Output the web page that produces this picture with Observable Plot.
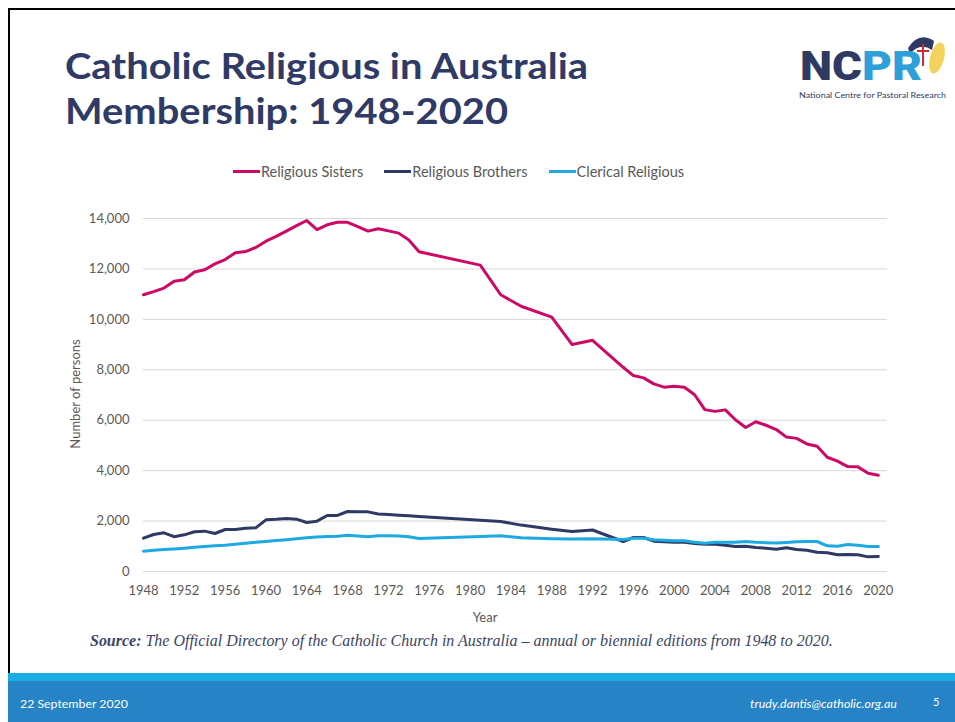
<!DOCTYPE html>
<html>
<head>
<meta charset="utf-8">
<script src="https://cdn.jsdelivr.net/npm/d3@7"></script>
<script src="https://cdn.jsdelivr.net/npm/@observablehq/plot@0.6"></script>
<style>
  html, body { margin: 0; padding: 0; background: #fff; }
  body { width: 955px; height: 722px; position: relative; overflow: hidden; font-family: Lato, "Open Sans", sans-serif; }
  .abs { position: absolute; white-space: nowrap; }
  #frame { left: 8px; top: 8px; width: 960px; height: 666px; border-top: 2px solid #000; border-left: 2px solid #000; box-sizing: border-box; }
  .title { left: 65px; font-weight: 700; color: #2F3A66; line-height: 1; transform-origin: 0 0; }
  #legend { top: 163px; left: 0; width: 917px; display: flex; justify-content: center; gap: 21px; font-size: 14.5px; color: #595959; }
  #legend .item { display: flex; align-items: center; }
  #legend .sw { width: 27px; height: 3px; margin-right: 1px; }
  #chart { left: 0; top: 150px; }
  #ylab { left: 75px; top: 394px; transform: translate(-50%, -50%) rotate(-90deg); font-size: 13px; color: #595959; }
  #xlab { left: 485px; top: 609px; transform: translateX(-50%); font-size: 13px; color: #595959; }
  #source { left: 90px; top: 632px; font-family: "Liberation Serif", "Times New Roman", serif; font-style: italic; color: #3B4466; font-size: 15px; }
  #footer1 { left: 8px; top: 673px; width: 960px; height: 8px; background: #1CADE4; }
  #footer2 { left: 8px; top: 681px; width: 960px; height: 41px; background: #2683C6; }
  .ft { color: #fff; font-size: 10px; top: 696px; }
</style>
</head>
<body>
<script>
// ---------- DATA ----------
const years = [1948,1949,1950,1951,1952,1953,1954,1955,1956,1957,1958,1959,1960,1961,1962,1963,1964,1965,1966,1967,1968,1969,1970,1971,1972,1973,1974,1975,1981,1983,1985,1988,1990,1992,1995,1996,1997,1998,1999,2000,2001,2002,2003,2004,2005,2006,2007,2008,2009,2010,2011,2012,2013,2014,2015,2016,2017,2018,2019,2020];
const sisters = [10975,11100,11240,11510,11570,11880,11970,12200,12370,12640,12690,12850,13100,13290,13500,13720,13920,13560,13750,13850,13850,13680,13500,13590,13510,13420,13150,12680,12150,10975,10520,10090,9000,9170,8100,7770,7680,7440,7310,7350,7310,7010,6420,6350,6410,6020,5710,5940,5800,5630,5330,5280,5060,4970,4530,4380,4160,4150,3900,3820];
const brothers = [1322,1467,1534,1380,1454,1574,1600,1507,1666,1670,1718,1731,2050,2070,2100,2076,1943,1996,2221,2225,2380,2370,2366,2280,2260,2233,2208,2181,2035,1983,1840,1680,1586,1645,1190,1348,1348,1203,1180,1163,1160,1110,1084,1084,1045,992,1005,952,926,886,939,873,846,767,740,661,674,661,581,595];
const clerical = [806,840,872,895,925,960,992,1020,1045,1085,1124,1160,1190,1225,1256,1295,1335,1365,1388,1400,1441,1410,1380,1420,1415,1405,1380,1309,1390,1415,1336,1300,1290,1300,1270,1322,1322,1256,1235,1216,1216,1163,1124,1160,1165,1160,1185,1160,1145,1130,1155,1177,1185,1190,1018,1005,1071,1045,992,992];
const seriesNames = ["Religious Sisters", "Religious Brothers", "Clerical Religious"];
const seriesColors = ["#CC0A66", "#2E3A64", "#1DA9E2"];
const xTicks = [1948,1952,1956,1960,1964,1968,1972,1976,1980,1984,1988,1992,1996,2000,2004,2008,2012,2016,2020];
const yTicks = [0,2000,4000,6000,8000,10000,12000,14000];
</script>

<div id="frame" class="abs"></div>
<div id="t1" class="abs title">Catholic Religious in Australia</div>
<div id="t2" class="abs title">Membership: 1948-2020</div>

<svg class="abs" style="left:796px;top:28px" width="155" height="76" viewBox="0 0 155 76">
  <ellipse cx="141" cy="30" rx="7" ry="16" fill="#F3D35B" transform="rotate(15 141 30)"/>
  <path d="M112 20 Q123 3 138 13 L136 22 Q124 14 114 26 Z" fill="#2E3A64"/>
  <rect x="126" y="16" width="2" height="22" fill="#D0283A"/>
  <rect x="121" y="22" width="12" height="2" fill="#D0283A"/>
  <text x="4" y="52" font-family="Roboto, Arial, sans-serif" font-weight="900" font-size="40" fill="#2E3A64" textLength="62" lengthAdjust="spacingAndGlyphs">NC</text>
  <text x="66" y="52" font-family="Roboto, Arial, sans-serif" font-weight="900" font-size="40" fill="#2E9FD8" textLength="60" lengthAdjust="spacingAndGlyphs">PR</text>
  <text x="3" y="70" font-family="Lato, sans-serif" font-size="7.5" fill="#2E3A64" textLength="147" lengthAdjust="spacingAndGlyphs">National Centre for Pastoral Research</text>
</svg>

<div id="legend" class="abs"></div>
<div id="chart" class="abs"></div>
<div id="ylab" class="abs">Number of persons</div>
<div id="xlab" class="abs">Year</div>
<div id="source" class="abs"><b>Source:</b> The Official Directory of the Catholic Church in Australia – annual or biennial editions from 1948 to 2020.</div>

<div id="footer1" class="abs"></div>
<div id="footer2" class="abs"></div>
<div id="fdate" class="abs ft" style="left:20px">22 September 2020</div>
<div id="fmail" class="abs ft" style="left:750px;font-style:italic">trudy.dantis@catholic.org.au</div>
<div id="fpage" class="abs ft" style="left:933px;font-size:11px;top:695px">5</div>

<script>
// fit text widths to the reference
function fitWidth(el, target) {
  const base = parseFloat(getComputedStyle(el).fontSize);
  const w = el.getBoundingClientRect().width;
  el.style.fontSize = (base * target / w) + "px";
}
const t1 = document.getElementById("t1"), t2 = document.getElementById("t2");
const titleSize = 37;
t1.style.fontSize = titleSize + "px"; t2.style.fontSize = titleSize + "px";
const sx = 523 / t1.getBoundingClientRect().width;
t1.style.transform = `scaleX(${sx})`;
t2.style.transform = `scaleX(${sx})`;
t1.style.top = (78 - titleSize * 0.86) + "px";
t2.style.top = (123 - titleSize * 0.86) + "px";
fitWidth(document.getElementById("source"), 743);
fitWidth(document.getElementById("fdate"), 108);
fitWidth(document.getElementById("fmail"), 147);

// legend
const legend = document.getElementById("legend");
seriesNames.forEach((n, i) => {
  const it = document.createElement("div");
  it.className = "item";
  it.innerHTML = `<span class="sw" style="background:${seriesColors[i]}"></span><span>${n}</span>`;
  legend.appendChild(it);
});

// rows
const seriesValues = [sisters, brothers, clerical];
const rows = [];
seriesNames.forEach((n, i) => years.forEach((y, j) => rows.push({year: y, value: seriesValues[i][j], series: n})));

const chart = Plot.plot({
  width: 955,
  height: 480,
  marginLeft: 143,
  marginRight: 68,
  marginTop: 68,
  marginBottom: 59,
  style: {fontFamily: "Lato, sans-serif", fontSize: "13px", color: "#595959", background: "transparent"},
  x: {domain: [1948, 2020.9], label: null},
  y: {domain: [0, 14000], label: null},
  color: {domain: seriesNames, range: seriesColors},
  marks: [
    Plot.gridY(yTicks, {stroke: "#D9D9D9", strokeOpacity: 1, strokeWidth: 1}),
    Plot.axisY(yTicks, {tickSize: 0, tickPadding: 14, tickFormat: d3.format(","), label: null, fill: "#595959"}),
    Plot.axisX(xTicks, {tickSize: 0, tickPadding: 14, tickFormat: d => String(d), label: null, fill: "#595959"}),
    Plot.line(rows, {x: "year", y: "value", z: "series", stroke: "series", strokeWidth: 3, strokeLinejoin: "round", strokeLinecap: "round"})
  ]
});
document.getElementById("chart").appendChild(chart);
</script>
</body>
</html>
